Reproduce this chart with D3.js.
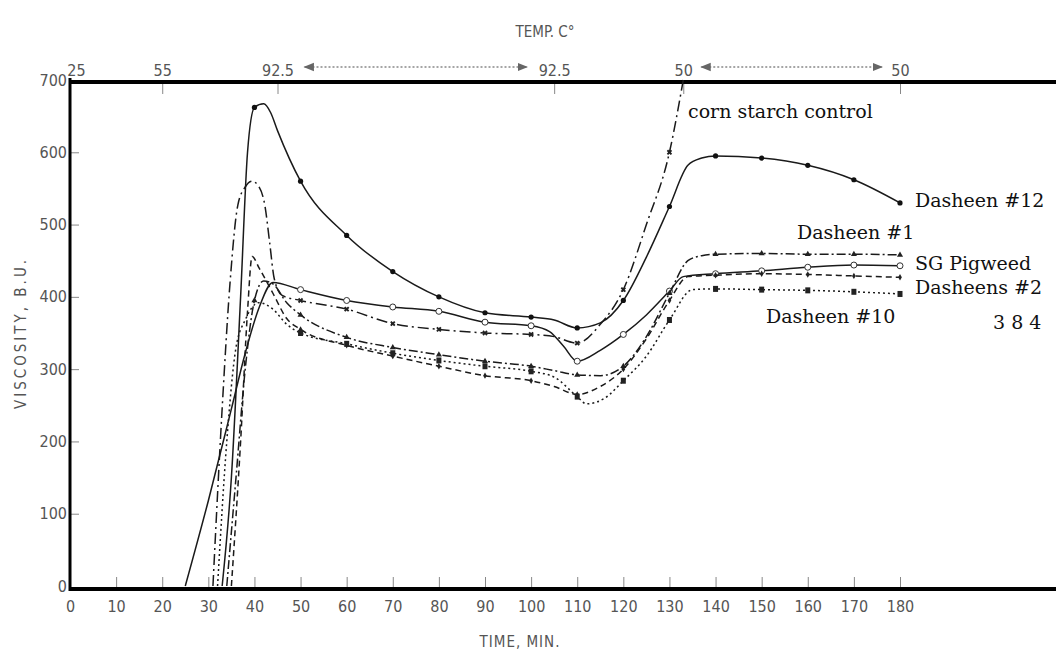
<!DOCTYPE html>
<html>
<head>
<meta charset="utf-8">
<script src="https://cdn.jsdelivr.net/npm/d3@7"></script>
<style>
  body { margin: 0; background: #fff; }
  svg { display: block; }
  .ax text { font-family: "Liberation Sans Narrow", "DejaVu Sans Condensed", sans-serif; font-stretch: condensed; fill: #555; font-size: 16px; }
  .ax line { stroke: #888; }
  .ttl { font-family: "DejaVu Sans Condensed", sans-serif; font-stretch: condensed; fill: #555; font-size: 15px; }
  .lbl { font-family: "DejaVu Serif", serif; font-size: 19px; fill: #111; }
</style>
</head>
<body>
<svg id="chart"></svg>
<script>
const width = 1056;
const height = 662;

// time (min) ticks along the bottom
const timeTicks = d3.range(0, 190, 10);
// temperature programme along the top
const tempTimes = [0, 20, 45, 105, 133, 180];
const tempLabels = ["25", "55", "92.5", "92.5", "50", "50"];
const viscTicks = d3.range(0, 800, 100);

// [time, viscosity B.U.]
const dasheen12 = [[33,0],[35,150],[37,400],[38.5,600],[40,662],[42,667],[43.5,655],[45,630],[50,560],[60,485],[70,435],[80,400],[90,378],[100,372],[105,368],[110,357],[115,364],[120,395],[125,455],[130,525],[134,582],[137,592],[140,595],[150,592],[160,582],[170,562],[180,530]];
const cornStarch = [[31,0],[33,246],[34.7,419],[36.4,527],[38,552],[39.5,560],[41,552],[42.3,525],[43.3,475],[44.3,425],[46,402],[50,395],[60,383],[70,363],[80,355],[90,350],[100,348],[105,345],[110,336],[115,362],[120,410],[125,500],[130,600],[133,700]];
const pigweed = [[25,0],[30,118],[35,245],[38,322],[41,385],[44,420],[50,410],[60,395],[70,386],[80,380],[90,365],[100,360],[104,352],[107,332],[110,311],[115,326],[120,348],[125,375],[130,408],[133,428],[140,432],[150,436],[160,441],[170,444],[180,443]];
const dasheen1 = [[34,0],[36,150],[38,300],[40,395],[42,422],[44,418],[47,392],[50,375],[60,344],[70,330],[80,320],[90,311],[100,304],[105,298],[110,292],[115,291],[120,304],[125,345],[130,405],[134,450],[137,457],[140,459],[150,460],[160,459],[170,459],[180,458]];
const dasheen234 = [[35,0],[37,200],[38.5,380],[39.5,456],[41,440],[44,405],[47,370],[50,355],[60,333],[70,318],[80,304],[90,291],[100,284],[105,276],[110,265],[115,276],[120,300],[125,342],[130,395],[134,428],[140,430],[150,432],[160,431],[170,429],[180,427]];
const dasheen10 = [[32,0],[34,200],[36,330],[38,368],[41,392],[44,383],[47,362],[50,350],[60,335],[70,322],[80,312],[90,304],[100,297],[105,289],[110,262],[112,252],[116,260],[120,284],[125,318],[130,368],[135,410],[140,411],[150,410],[160,409],[170,407],[180,404]];

const series = [
  { data: dasheen12, dash: null, mark: "dot" },
  { data: cornStarch, dash: "11,4,2,4", mark: "x" },
  { data: pigweed, dash: null, mark: "ring" },
  { data: dasheen1, dash: "9,3,2,3", mark: "tri" },
  { data: dasheen234, dash: "6,4", mark: "tick" },
  { data: dasheen10, dash: "2,3", mark: "sq" }
];

const labels = [
  { text: "corn starch control", x: 688, y: 118 },
  { text: "Dasheen #12", x: 915, y: 207 },
  { text: "Dasheen #1", x: 797, y: 239 },
  { text: "SG Pigweed", x: 915, y: 270 },
  { text: "Dasheens #2", x: 915, y: 294 },
  { text: "3 8 4", x: 993, y: 329 },
  { text: "Dasheen #10", x: 766, y: 323 }
];

const svg = d3.select("#chart")
  .attr("width", width)
  .attr("height", height)
  .attr("viewBox", [0, 0, width, height]);

const x = d3.scaleLinear().domain([0, 180]).range([70, 900]);
const y = d3.scaleLinear().domain([0, 700]).range([586, 80]);

// axes
svg.append("g")
  .attr("class", "ax")
  .attr("transform", "translate(0,589)")
  .call(d3.axisBottom(x).tickValues(timeTicks).tickSizeInner(-12).tickSizeOuter(0).tickPadding(12))
  .call(g => g.select(".domain").remove());

svg.append("g")
  .attr("class", "ax")
  .attr("transform", "translate(70,0)")
  .call(d3.axisLeft(y).tickValues(viscTicks).tickSizeInner(-9).tickSizeOuter(0).tickPadding(3))
  .call(g => g.select(".domain").remove())
  .call(g => g.selectAll(".tick").filter(d => d === 0 || d === 700).select("line").remove());

svg.append("g")
  .attr("class", "ax")
  .attr("transform", "translate(0,82)")
  .call(d3.axisTop(x).tickValues(tempTimes).tickFormat((d, i) => tempLabels[i]).tickSizeInner(-12).tickSizeOuter(0).tickPadding(6))
  .call(g => g.select(".domain").remove())
  .call(g => g.selectAll(".tick").filter(d => d === 0).select("text").attr("dx", 6));

// frame
svg.append("line").attr("x1", 70).attr("x2", 70).attr("y1", y(700) - 2).attr("y2", 591)
  .attr("stroke", "#000").attr("stroke-width", 3);
svg.append("line").attr("x1", 69).attr("x2", width).attr("y1", 82).attr("y2", 82)
  .attr("stroke", "#000").attr("stroke-width", 4);
svg.append("line").attr("x1", 69).attr("x2", width).attr("y1", 589).attr("y2", 589)
  .attr("stroke", "#000").attr("stroke-width", 4);

// temperature hold arrows
const defs = svg.append("defs");
defs.append("marker")
  .attr("id", "arr")
  .attr("viewBox", "0 0 10 10")
  .attr("refX", 9).attr("refY", 5)
  .attr("markerWidth", 7).attr("markerHeight", 7)
  .attr("orient", "auto-start-reverse")
  .append("path").attr("d", "M0,1L10,5L0,9Z").attr("fill", "#666");

[[2, 3, 27], [4, 5, 18]].forEach(([a, b, pad]) => {
  svg.append("line")
    .attr("x1", x(tempTimes[a]) + pad).attr("x2", x(tempTimes[b]) - pad)
    .attr("y1", 67).attr("y2", 67)
    .attr("stroke", "#888").attr("stroke-width", 1.5)
    .attr("stroke-dasharray", "2,2")
    .attr("marker-start", "url(#arr)")
    .attr("marker-end", "url(#arr)");
});

// titles
svg.append("text").attr("class", "ttl")
  .attr("x", 545).attr("y", 37).attr("text-anchor", "middle")
  .text("TEMP. C°");
svg.append("text").attr("class", "ttl")
  .attr("x", 520).attr("y", 647).attr("text-anchor", "middle")
  .attr("letter-spacing", 1)
  .text("TIME, MIN.");
svg.append("text").attr("class", "ttl")
  .attr("transform", "translate(26,333) rotate(-90)")
  .attr("text-anchor", "middle")
  .attr("letter-spacing", 3)
  .attr("font-size", 16)
  .text("VISCOSITY, B.U.");

// curves
const line = d3.line()
  .x(d => x(d[0]))
  .y(d => y(d[1]))
  .curve(d3.curveMonotoneX);

series.forEach(s => {
  svg.append("path")
    .datum(s.data)
    .attr("fill", "none")
    .attr("stroke", "#1a1a1a")
    .attr("stroke-width", 1.5)
    .attr("stroke-dasharray", s.dash)
    .attr("d", line);

  const pts = s.data.filter(d => d[0] >= 40 && d[0] % 10 === 0);
  const g = svg.append("g");
  if (s.mark === "dot") {
    g.selectAll("circle").data(pts).join("circle")
      .attr("cx", d => x(d[0])).attr("cy", d => y(d[1])).attr("r", 2.6).attr("fill", "#111");
  } else if (s.mark === "ring") {
    g.selectAll("circle").data(pts).join("circle")
      .attr("cx", d => x(d[0])).attr("cy", d => y(d[1])).attr("r", 3)
      .attr("fill", "#fff").attr("stroke", "#333").attr("stroke-width", 1);
  } else if (s.mark === "x") {
    g.selectAll("path").data(pts.filter(d => d[1] < 700)).join("path")
      .attr("transform", d => `translate(${x(d[0])},${y(d[1])}) rotate(45)`)
      .attr("d", d3.symbol(d3.symbolCross, 18)())
      .attr("fill", "#222");
  } else if (s.mark === "tri") {
    g.selectAll("path").data(pts).join("path")
      .attr("transform", d => `translate(${x(d[0])},${y(d[1])})`)
      .attr("d", d3.symbol(d3.symbolTriangle, 16)())
      .attr("fill", "#222");
  } else if (s.mark === "tick") {
    g.selectAll("path").data(pts).join("path")
      .attr("transform", d => `translate(${x(d[0])},${y(d[1])})`)
      .attr("d", d3.symbol(d3.symbolDiamond, 12)())
      .attr("fill", "#222");
  } else if (s.mark === "sq") {
    g.selectAll("rect").data(pts).join("rect")
      .attr("x", d => x(d[0]) - 2.5).attr("y", d => y(d[1]) - 3)
      .attr("width", 5).attr("height", 6).attr("fill", "#222");
  }
});

// curve labels
svg.append("g")
  .selectAll("text")
  .data(labels)
  .join("text")
  .attr("class", "lbl")
  .attr("x", d => d.x)
  .attr("y", d => d.y)
  .text(d => d.text);
</script>
</body>
</html>
